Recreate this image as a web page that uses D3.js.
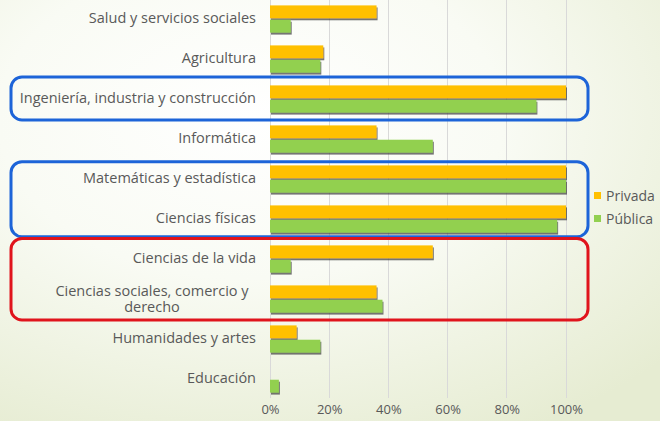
<!DOCTYPE html>
<html>
<head>
<meta charset="utf-8">
<script src="https://cdn.jsdelivr.net/npm/d3@7"></script>
<style>
  html, body { margin: 0; padding: 0; }
  body { width: 660px; height: 421px; overflow: hidden; }
  svg { display: block; font-family: "Open Sans", "Lato", sans-serif; }
</style>
</head>
<body>
<svg id="chart" width="660" height="421"></svg>
<script>
// Campos de estudio (de arriba abajo)
const categories = [
  "Salud y servicios sociales",
  "Agricultura",
  "Ingeniería, industria y construcción",
  "Informática",
  "Matemáticas y estadística",
  "Ciencias físicas",
  "Ciencias de la vida",
  "Ciencias sociales, comercio y derecho",
  "Humanidades y artes",
  "Educación"
];
const seriesNames = ["Privada", "Pública"];
const privada = [36, 18, 100, 36, 100, 100, 55, 36, 9, 0];
const publica = [7, 17, 90, 55, 100, 97, 7, 38, 17, 3];
const tickValues = [0, 20, 40, 60, 80, 100];
const tickLabels = ["0%", "20%", "40%", "60%", "80%", "100%"];
// Grupos resaltados: [primera categoría, última categoría, color]
const highlights = [
  [2, 2, "#1d64d8"],
  [4, 5, "#1d64d8"],
  [6, 7, "#e0141c"]
];

const colors = { "Privada": "#ffc000", "Pública": "#92d050" };
const textColor = "#595959";

const svg = d3.select("#chart");
const defs = svg.append("defs");

// Fondo con degradado radial claro
const grad = defs.append("radialGradient")
  .attr("id", "bg").attr("cx", "38%").attr("cy", "28%").attr("r", "85%");
grad.append("stop").attr("offset", "0%").attr("stop-color", "#ffffff");
grad.append("stop").attr("offset", "45%").attr("stop-color", "#f9fbf4");
grad.append("stop").attr("offset", "100%").attr("stop-color", "#e6ecd2");
svg.append("rect").attr("width", 660).attr("height", 421).attr("fill", "url(#bg)");

const shadow = defs.append("filter").attr("id", "shadow")
  .attr("x", "-10%").attr("y", "-30%").attr("width", "130%").attr("height", "180%");
shadow.append("feDropShadow").attr("dx", 1).attr("dy", 2).attr("stdDeviation", 0.7)
  .attr("flood-color", "#3a3a3a").attr("flood-opacity", 0.7);

const x = d3.scaleLinear().domain([0, 100]).range([270, 566]);
const y = d3.scaleBand().domain(categories).range([-1, 399])
  .paddingInner(0.32).paddingOuter(0.16);
const ySub = d3.scaleBand().domain(seriesNames).range([0, y.bandwidth()]).paddingInner(0.1);

// Líneas de cuadrícula
svg.append("g")
  .selectAll("line").data(tickValues).join("line")
  .attr("x1", d => x(d)).attr("x2", d => x(d))
  .attr("y1", 0).attr("y2", 398)
  .attr("stroke", "#d9d9d9").attr("stroke-width", 1)
  .attr("shape-rendering", "crispEdges");

// Etiquetas del eje X
const xAxis = d3.axisBottom(x).tickValues(tickValues)
  .tickFormat((d, i) => tickLabels[i]).tickSize(0).tickPadding(0);
const gx = svg.append("g").attr("transform", "translate(0,404)").call(xAxis);
gx.select(".domain").remove();
gx.selectAll("text").attr("font-size", 13).attr("fill", textColor)
  .attr("font-family", "'Open Sans', Lato, sans-serif").attr("dy", "0.75em");

// Barras
const rows = categories.map((c, i) => ({ cat: c, Privada: privada[i], "Pública": publica[i] }));
const groups = svg.append("g").selectAll("g").data(rows).join("g")
  .attr("transform", d => `translate(0,${y(d.cat)})`);
groups.selectAll("rect")
  .data(d => seriesNames.map(s => ({ s, v: d[s] })).filter(e => e.v > 0))
  .join("rect")
  .attr("x", x(0))
  .attr("y", e => ySub(e.s))
  .attr("width", e => x(e.v) - x(0))
  .attr("height", ySub.bandwidth())
  .attr("fill", e => colors[e.s])
  .attr("filter", "url(#shadow)");

// Etiquetas de categorías (la más larga se parte en dos líneas)
const labels = svg.append("g").attr("font-size", 14.5).attr("fill", textColor);
categories.forEach(c => {
  const cy = y(c) + y.bandwidth() / 2;
  if (c === "Ciencias sociales, comercio y derecho") {
    const t = labels.append("text").attr("text-anchor", "middle");
    t.append("tspan").attr("x", 152).attr("y", cy - 8).attr("dy", "0.35em").text("Ciencias sociales, comercio y");
    t.append("tspan").attr("x", 152).attr("y", cy + 8).attr("dy", "0.35em").text("derecho");
  } else {
    labels.append("text").attr("x", 256).attr("y", cy - 1).attr("dy", "0.35em")
      .attr("text-anchor", "end").text(c);
  }
});

// Recuadros de resaltado (margen superior e inferior alrededor de las bandas)
const boxPad = [[8.4, 7.4], [3.7, 4.1], [7, 7.4]];
svg.append("g").selectAll("rect").data(highlights).join("rect")
  .attr("x", 11)
  .attr("y", (d, i) => y(categories[d[0]]) - boxPad[i][0])
  .attr("width", 577)
  .attr("height", (d, i) => y(categories[d[1]]) + y.bandwidth() - y(categories[d[0]]) + boxPad[i][0] + boxPad[i][1])
  .attr("rx", 11).attr("ry", 11)
  .attr("fill", "none")
  .attr("stroke", d => d[2]).attr("stroke-width", 3);

// Leyenda
const legend = svg.append("g").selectAll("g").data(seriesNames).join("g")
  .attr("transform", (d, i) => `translate(594,${196 + i * 23})`);
legend.append("rect").attr("x", 0).attr("y", -4).attr("width", 7).attr("height", 7)
  .attr("fill", d => colors[d]);
legend.append("text").attr("x", 12).attr("y", 0).attr("dy", "0.35em")
  .attr("font-size", 14).attr("fill", textColor).text(d => d);
</script>
</body>
</html>
